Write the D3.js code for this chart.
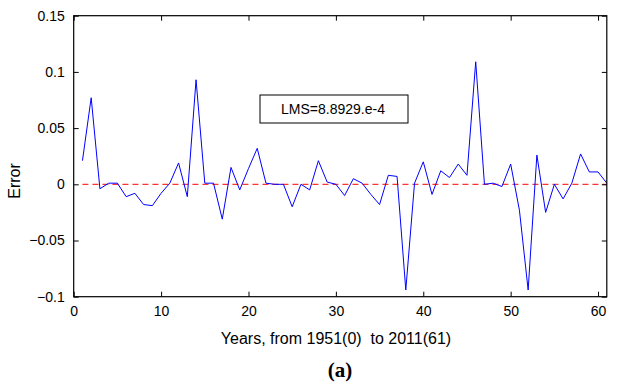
<!DOCTYPE html>
<html>
<head>
<meta charset="utf-8">
<script src="https://cdn.jsdelivr.net/npm/d3@7"></script>
<style>
  body { margin: 0; background: #fff; }
  text { font-family: "Liberation Sans", Arial, sans-serif; }
</style>
</head>
<body>
<div id="chart"></div>
<script>
// years index 1..61
var years = d3.range(1, 62);
var errors = [
  0.021, 0.077, -0.004, 0.001, 0.001, -0.011, -0.008, -0.018, -0.019, -0.008,
  0.001, 0.019, -0.011, 0.093, 0.001, 0.001, -0.031, 0.015, -0.005, 0.014,
  0.032, 0.001, 0.000, 0.000, -0.020, 0.000, -0.005, 0.021, 0.002, 0.000,
  -0.010, 0.005, 0.001, -0.009, -0.018, 0.008, 0.007, -0.094, 0.001, 0.020,
  -0.009, 0.012, 0.006, 0.018, 0.008, 0.109, 0.000, 0.001, -0.002, 0.018,
  -0.023, -0.094, 0.026, -0.025, 0.000, -0.013, 0.001, 0.027, 0.011, 0.011,
  0.001
];
var xTicks = [0, 10, 20, 30, 40, 50, 60];
var yTicks = [-0.1, -0.05, 0, 0.05, 0.1, 0.15];
var lmsText = "LMS=8.8929.e-4";

function init() {
  var w = 622, h = 386;
  var left = 73.7, right = 606.8, top = 15.7, bottom = 296.7;

  var svg = d3.select("#chart").append("svg")
    .attr("width", w)
    .attr("height", h);

  var x = d3.scaleLinear().domain([0, 61]).range([left, right]);
  var y = d3.scaleLinear().domain([-0.1, 0.15]).range([bottom, top]);

  var fmt = function (d) { return d3.format("")(+d.toFixed(2)); };

  // zero reference line (dashed red)
  svg.append("line")
    .attr("x1", x(1)).attr("x2", x(61))
    .attr("y1", y(0)).attr("y2", y(0))
    .attr("stroke", "#ff0000")
    .attr("stroke-width", 1)
    .attr("stroke-dasharray", "6,4");

  // error line
  var line = d3.line()
    .x(function (d, i) { return x(years[i]); })
    .y(function (d) { return y(d); });

  svg.append("path")
    .datum(errors)
    .attr("d", line)
    .attr("fill", "none")
    .attr("stroke", "#0000ff")
    .attr("stroke-width", 1);

  // axes, ticks pointing inward
  var bottomAxis = d3.axisBottom(x).tickValues(xTicks).tickSize(-5).tickPadding(9).tickFormat(fmt);
  var topAxis = d3.axisTop(x).tickValues(xTicks).tickSize(-5).tickFormat("");
  var leftAxis = d3.axisLeft(y).tickValues(yTicks).tickSize(-5).tickPadding(9).tickFormat(fmt);
  var rightAxis = d3.axisRight(y).tickValues(yTicks).tickSize(-5).tickFormat("");

  function styleAxis(g) {
    g.select(".domain").remove();
    g.selectAll("line").attr("stroke", "#000");
    g.selectAll("text")
      .attr("font-size", "14px")
      .attr("font-family", "Liberation Sans, Arial, sans-serif")
      .attr("fill", "#000");
  }

  svg.append("g").attr("transform", "translate(0," + bottom + ")").call(bottomAxis).call(styleAxis);
  svg.append("g").attr("transform", "translate(0," + top + ")").call(topAxis).call(styleAxis);
  svg.append("g").attr("transform", "translate(" + left + ",0)").call(leftAxis).call(styleAxis);
  svg.append("g").attr("transform", "translate(" + right + ",0)").call(rightAxis).call(styleAxis);

  // plot frame
  svg.append("rect")
    .attr("x", left).attr("y", top)
    .attr("width", right - left).attr("height", bottom - top)
    .attr("fill", "none")
    .attr("stroke", "#000")
    .attr("stroke-width", 1.2);

  // LMS annotation box
  svg.append("rect")
    .attr("x", 260).attr("y", 95)
    .attr("width", 148).attr("height", 28)
    .attr("fill", "#fff")
    .attr("stroke", "#000")
    .attr("stroke-width", 1);

  svg.append("text")
    .attr("x", 333).attr("y", 114)
    .attr("text-anchor", "middle")
    .attr("font-size", "14px")
    .text(lmsText);

  // axis labels
  svg.append("text")
    .attr("x", 336).attr("y", 344)
    .attr("text-anchor", "middle")
    .attr("font-size", "16px")
    .style("white-space", "pre")
    .text("Years, from 1951(0)  to 2011(61)");

  svg.append("text")
    .attr("transform", "translate(20,181) rotate(-90)")
    .attr("text-anchor", "middle")
    .attr("font-size", "16px")
    .text("Error");

  svg.append("text")
    .attr("x", 340).attr("y", 377)
    .attr("text-anchor", "middle")
    .attr("font-size", "21px")
    .attr("font-weight", "bold")
    .style("font-family", "Liberation Serif, Times New Roman, serif")
    .text("(a)");
}

window.onload = init;
</script>
</body>
</html>
